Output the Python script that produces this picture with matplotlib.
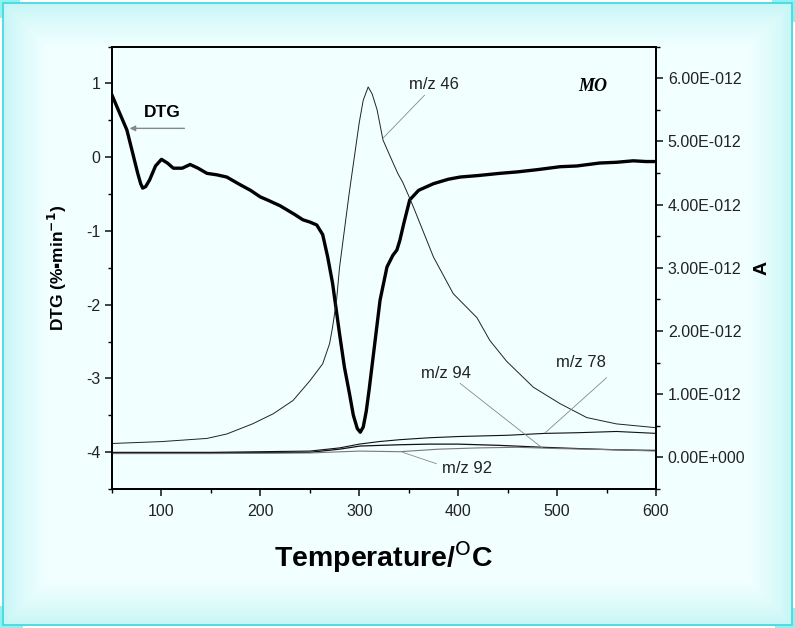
import numpy as np
import matplotlib
matplotlib.use("Agg")
import matplotlib.pyplot as plt
from matplotlib.ticker import MultipleLocator, FuncFormatter
from matplotlib.patches import Rectangle

plt.rcParams["font.family"] = ["Liberation Sans", "DejaVu Sans"]
plt.rcParams["axes.unicode_minus"] = False

# DTG curve (%/min) vs temperature (C)
dtg_t = [50, 57, 65, 71, 76, 79, 81, 84, 88, 94, 100, 106, 112, 121, 129, 137, 146, 156,
         166, 179, 190, 200, 207, 220, 235, 243, 250, 257, 263, 268, 273, 280, 285, 290,
         294, 298, 301, 304, 307, 310, 314, 321, 328, 334, 338, 341, 345, 351, 360, 375,
         390, 402, 420, 442, 460, 480, 503, 520, 543, 560, 577, 590, 600]
dtg = [0.84, 0.62, 0.37, 0.05, -0.22, -0.36, -0.42, -0.40, -0.31, -0.12, -0.03, -0.08,
       -0.15, -0.15, -0.10, -0.15, -0.22, -0.24, -0.27, -0.37, -0.45, -0.54, -0.58, -0.66,
       -0.78, -0.85, -0.88, -0.92, -1.05, -1.35, -1.71, -2.39, -2.85, -3.2, -3.5, -3.68,
       -3.73, -3.66, -3.45, -3.15, -2.71, -1.94, -1.49, -1.33, -1.26, -1.13, -0.9, -0.58,
       -0.45, -0.36, -0.30, -0.27, -0.25, -0.22, -0.20, -0.17, -0.13, -0.12, -0.08, -0.07,
       -0.05, -0.06, -0.06]

# MS ion currents (units of 1E-012 A)
mz46_t = [50, 100, 146, 166, 192, 213, 233, 250, 263, 270, 273, 277, 280, 285, 290, 295,
          300, 304, 309, 313, 318, 324, 333, 339, 344, 351, 355, 375, 395, 419, 432, 449,
          476, 503, 530, 560, 600]
mz46 = [0.22, 0.25, 0.30, 0.37, 0.53, 0.69, 0.90, 1.21, 1.48, 1.80, 2.06, 2.48, 3.0,
        3.6, 4.2, 4.75, 5.3, 5.65, 5.86, 5.75, 5.5, 5.02, 4.70, 4.49, 4.35, 4.1, 3.95,
        3.17, 2.59, 2.21, 1.85, 1.52, 1.11, 0.85, 0.63, 0.53, 0.47]

mz78_t = [50, 150, 250, 280, 300, 320, 341, 370, 400, 450, 488, 520, 560, 600]
mz78 = [0.08, 0.08, 0.10, 0.15, 0.21, 0.25, 0.28, 0.31, 0.33, 0.35, 0.38, 0.39, 0.41, 0.38]

mz94_t = [50, 150, 250, 280, 301, 341, 370, 400, 442, 485, 520, 560, 600]
mz94 = [0.07, 0.07, 0.08, 0.13, 0.18, 0.20, 0.21, 0.21, 0.19, 0.16, 0.14, 0.12, 0.11]

mz92_t = [50, 150, 250, 300, 341, 380, 420, 460, 500, 560, 600]
mz92 = [0.06, 0.06, 0.07, 0.10, 0.09, 0.13, 0.15, 0.16, 0.14, 0.12, 0.10]

W, H = 795, 628
fig = plt.figure(figsize=(W / 100, H / 100), dpi=100)

# background panel with soft cyan edges
bg = fig.add_axes([0, 0, 1, 1], zorder=-5)
bg.set_axis_off()
yy, xx = np.mgrid[0:H, 0:W]
x0, x1, y0, y1 = 3, 792, 3, 625
d = np.minimum.reduce([xx - x0, x1 - xx, yy - y0, y1 - yy]).astype(float)
t = np.clip(d / 45.0, 0, 1) ** 0.7
edge = np.array([0.76, 0.96, 0.96])
center = np.array([0.95, 1.0, 1.0])
img = edge * (1 - t[..., None]) + center * t[..., None]
corner = np.array([0.55, 0.95, 0.95])
outside = (xx < x0) | (xx > x1) | (yy < y0) | (yy > y1)
img[outside] = 1.0
for cx0, cx1, cy0, cy1 in [(0, 20, 0, 18), (772, W, 0, 22), (0, 23, 606, H), (775, W, 608, H)]:
    m = outside & (xx >= cx0) & (xx < cx1) & (yy >= cy0) & (yy < cy1)
    img[m] = corner
bg.imshow(img, extent=[0, W, H, 0], aspect="auto", interpolation="bilinear")
bg.add_patch(Rectangle((x0, y0), x1 - x0, y1 - y0, fill=False, edgecolor="#3fd6dc", lw=1.2))
bg.set_xlim(0, W)
bg.set_ylim(H, 0)

ax = fig.add_axes([112 / W, 1 - 489 / H, 544 / W, 442.5 / H])
ax.set_facecolor("none")
ax2 = ax.twinx()

ax.plot(dtg_t, dtg, color="black", lw=2.4, zorder=5)
scale = 1e-12
ax2.plot(mz46_t, np.array(mz46) * scale, color="#222222", lw=0.7)
ax2.plot(mz78_t, np.array(mz78) * scale, color="#111111", lw=0.8)
ax2.plot(mz94_t, np.array(mz94) * scale, color="#111111", lw=0.9)
ax2.plot(mz92_t, np.array(mz92) * scale, color="#777777", lw=0.8)

ax.set_xlim(50, 600)
ax.set_ylim(-4.5, 1.5)
ax2.set_ylim(-0.5e-12, 6.5e-12)

ax.xaxis.set_major_locator(MultipleLocator(100))
ax.xaxis.set_minor_locator(MultipleLocator(50))
ax.yaxis.set_major_locator(MultipleLocator(1))
ax.yaxis.set_minor_locator(MultipleLocator(0.5))
ax2.yaxis.set_major_locator(MultipleLocator(1e-12))
ax2.yaxis.set_minor_locator(MultipleLocator(0.5e-12))


def sci(v, pos):
    if abs(v) < 1e-20:
        return "0.00E+000"
    e = int(np.floor(np.log10(abs(v)) + 1e-9))
    return f"{v / 10 ** e:.2f}E{e:+04d}"


ax2.yaxis.set_major_formatter(FuncFormatter(sci))

for a in (ax, ax2):
    a.tick_params(which="major", direction="out", length=5, width=1.2, labelsize=11.5,
                  colors="#222222")
    a.tick_params(which="minor", direction="out", length=3, width=1.0)
    for s in a.spines.values():
        s.set_linewidth(1.3)
ax.tick_params(axis="x", pad=6)

ax.set_xlabel("Temperature/$^{\\mathrm{O}}$C", fontsize=20.5, fontweight="bold", labelpad=14)
ax.set_ylabel("DTG (%\u25aamin$^{\\mathbf{-1}}$)", fontsize=12.5, fontweight="bold", labelpad=12)
ax2.set_ylabel("A", fontsize=14, fontweight="bold", rotation=90, labelpad=6)

# annotations
ax.annotate("", xy=(65, 0.39), xytext=(126, 0.39),
            arrowprops=dict(arrowstyle="-|>", color="#888888", lw=1.0, mutation_scale=8))
ax.text(101, 0.6, "DTG", fontsize=12.5, fontweight="bold", ha="center", va="center")

ax2.text(375, 5.9e-12, "m/z 46", fontsize=12, ha="center", va="center", color="#222222")
ax2.plot([366, 324], [5.73e-12, 5.05e-12], color="#888888", lw=0.6)
ax2.text(388, 1.33e-12, "m/z 94", fontsize=12, ha="center", va="center", color="#222222")
ax2.plot([402, 485], [1.17e-12, 0.15e-12], color="#888888", lw=0.6)
ax2.text(524, 1.5e-12, "m/z 78", fontsize=12, ha="center", va="center", color="#222222")
ax2.plot([550, 488], [1.26e-12, 0.39e-12], color="#888888", lw=0.6)
ax2.text(409, -0.18e-12, "m/z 92", fontsize=12, ha="center", va="center", color="#222222")
ax2.plot([378, 344], [-0.1e-12, 0.08e-12], color="#888888", lw=0.6)

ax2.text(536, 5.86e-12, "MO", fontsize=13, fontweight="bold", fontstyle="italic",
         family="Liberation Serif", ha="center", va="center")

fig.savefig("out.png", dpi=100)
